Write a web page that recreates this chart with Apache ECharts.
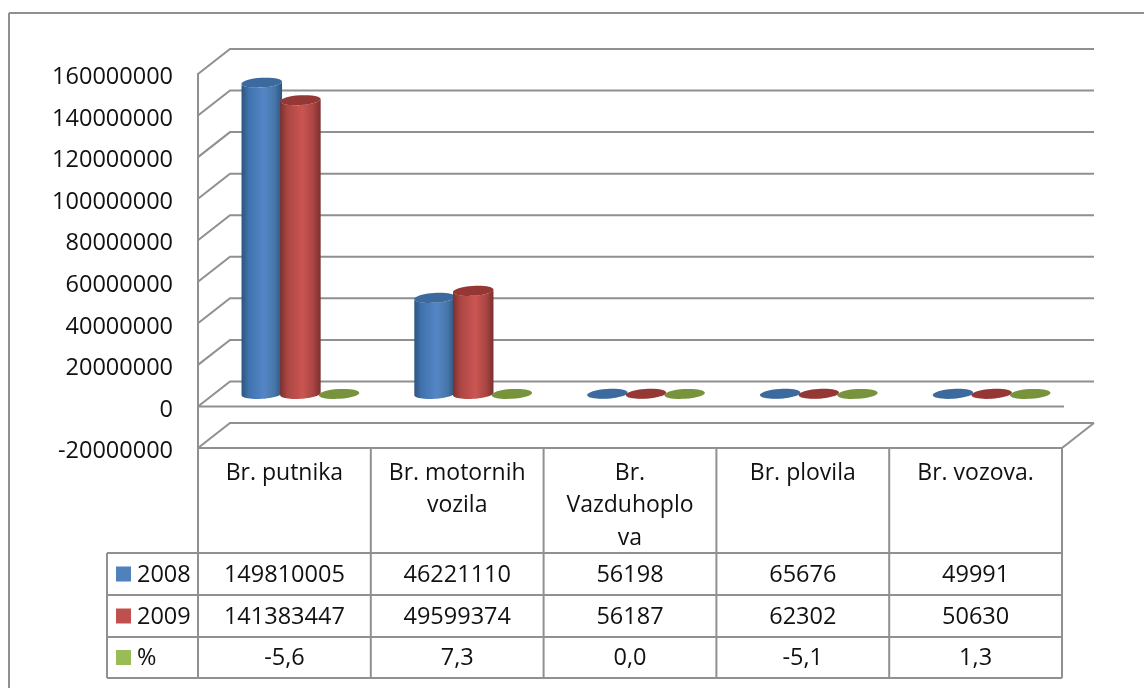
<!DOCTYPE html>
<html>
<head>
<meta charset="utf-8">
<style>html,body{margin:0;padding:0;background:#fff}#c{width:1144px;height:688px}</style>
<script src="https://cdn.jsdelivr.net/npm/echarts@6/dist/echarts.min.js"></script>
</head>
<body>
<div id="c"></div>
<script>
const categories = ['Br. putnika', 'Br. motornih\nvozila', 'Br.\nVazduhoplo\nva', 'Br. plovila', 'Br. vozova.'];
const values2008 = [149810005, 46221110, 56198, 65676, 49991];
const values2009 = [141383447, 49599374, 56187, 62302, 50630];
const valuesPct = [-5.6, 7.3, 0.0, -5.1, 1.3];
const seriesNames = ['2008', '2009', '%'];
const yTicks = [-20000000, 0, 20000000, 40000000, 60000000, 80000000, 100000000, 120000000, 140000000, 160000000];

const FONT = '"Open Sans", "Noto Sans", sans-serif';
const FS = 23;
const FS_NUM = 23.5;
const GREY = '#909090';
const G = {l: 198, r: 1062, t: 74, b: 448};
const DX = 32, DY = -25;
const rows = [553, 595, 637, 678];
const tableLeft = 107;

const looks = [
  {key: '#4f81bd', top: '#3c6a9f', stops: ['#2e5480', '#4073ad', '#5486c6', '#4676a8', '#2e5480']},
  {key: '#c0504d', top: '#953735', stops: ['#7b302e', '#ab4643', '#cb5552', '#a94543', '#7b302e']},
  {key: '#9bbb59', top: '#77933c', stops: ['#5f7a2e', '#7f9c42', '#9fc05c', '#7f9c42', '#5f7a2e']}
];

function cylinder(idx) {
  return function (params, api) {
    const look = looks[idx];
    const cat = api.value(0), val = api.value(1);
    const band = api.size([1, 0])[0];
    const rx = 20.3, ry = 4.9, th = -3.5 * Math.PI / 180;
    const off = (idx - 1) * band * 0.2235 + DX / 2;
    const p0 = api.coord([cat, 0]), p1 = api.coord([cat, val]);
    const cx = p0[0] + off, yb = p0[1] + DY / 2, yt = p1[1] + DY / 2;
    const pts = [];
    const ePt = (t, y) => [
      cx + rx * Math.cos(t) * Math.cos(th) - ry * Math.sin(t) * Math.sin(th),
      y + rx * Math.cos(t) * Math.sin(th) + ry * Math.sin(t) * Math.cos(th)
    ];
    for (let i = 0; i <= 24; i++) pts.push(ePt(Math.PI * i / 24, yb));
    for (let i = 24; i >= 0; i--) pts.push(ePt(Math.PI * i / 24, yt));
    const s = look.stops;
    return {
      type: 'group',
      children: [
        {
          type: 'polygon',
          shape: {points: pts},
          style: {fill: new echarts.graphic.LinearGradient(0, 0, 1, 0, [
            {offset: 0, color: s[0]}, {offset: 0.18, color: s[1]}, {offset: 0.55, color: s[2]},
            {offset: 0.82, color: s[3]}, {offset: 1, color: s[4]}
          ])}
        },
        {
          type: 'ellipse',
          x: cx, y: yt, rotation: -th,
          shape: {cx: 0, cy: 0, rx: rx, ry: ry},
          style: {fill: look.top}
        }
      ]
    };
  };
}

function gridRender(params, api) {
  const v = api.value(0);
  const y = api.coord([0, v])[1];
  const x0 = params.coordSys.x, x1 = x0 + params.coordSys.width;
  const children = [{
    type: 'polyline',
    shape: {points: [[x0, y], [x0 + DX, y + DY], [x1 + DX, y + DY]]},
    style: {stroke: GREY, lineWidth: 2, fill: null}
  }];
  if (v === 0) children.push({type: 'line', shape: {x1: x0, y1: y, x2: x1 + 2, y2: y}, style: {stroke: GREY, lineWidth: 2}});
  if (v === yTicks[0]) children.push({type: 'line', shape: {x1: x1, y1: y, x2: x1 + DX, y2: y + DY}, style: {stroke: GREY, lineWidth: 2}});
  return {type: 'group', children};
}

function fmtPct(v) { return v.toFixed(1).replace('.', ','); }
const tableRows = [values2008.map(String), values2009.map(String), valuesPct.map(fmtPct)];

function line(x1, y1, x2, y2) {
  return {type: 'line', silent: true, shape: {x1, y1, x2, y2}, style: {stroke: GREY, lineWidth: 2}, z: 5};
}
function label(text, x, y, align) {
  return {type: 'text', silent: true, x, y, z: 6, style: {text, fill: '#111', font: FS_NUM + 'px ' + FONT, align, verticalAlign: 'middle'}};
}
const gfx = [
  line(9, 13, 1144, 13),
  line(9, 13, 9, 688)
];
const colW = (G.r - G.l) / categories.length;
for (let i = 0; i <= categories.length; i++) gfx.push(line(G.l + i * colW, G.b, G.l + i * colW, rows[3]));
gfx.push(line(tableLeft, rows[0], tableLeft, rows[3]));
rows.forEach(y => gfx.push(line(tableLeft, y, G.r, y)));
tableRows.forEach((vals, r) => {
  const yc = (rows[r] + rows[r + 1]) / 2;
  gfx.push({type: 'rect', silent: true, z: 6, shape: {x: 116, y: yc - 7.5, width: 15, height: 15}, style: {fill: looks[r].key}});
  gfx.push(label(seriesNames[r], 137, yc + 1, 'left'));
  vals.forEach((t, c) => gfx.push(label(t, G.l + (c + 0.5) * colW, yc + 1, 'center')));
});

const seriesData = [values2008, values2009, valuesPct];
const chart = echarts.init(document.getElementById('c'), null, {renderer: 'canvas'});
chart.setOption({
  animation: false,
  backgroundColor: '#fff',
  grid: {left: G.l, right: 1144 - G.r, top: G.t, height: G.b - G.t},
  xAxis: {
    type: 'category',
    data: categories,
    axisLine: {onZero: false, lineStyle: {color: GREY, width: 2}},
    axisTick: {show: false},
    axisLabel: {interval: 0, margin: 9, color: '#111', fontFamily: FONT, fontSize: FS, lineHeight: 32.5, verticalAlign: 'top'}
  },
  yAxis: {
    type: 'value',
    min: yTicks[0],
    max: yTicks[yTicks.length - 1],
    interval: 20000000,
    splitLine: {show: false},
    axisTick: {show: false},
    axisLine: {show: true, lineStyle: {color: GREY, width: 2}},
    axisLabel: {
      margin: 25,
      formatter: v => '{n|' + v + '}',
      rich: {n: {color: '#111', fontFamily: FONT, fontSize: FS_NUM, padding: [7, 0, 0, 0]}}
    }
  },
  graphic: gfx,
  series: [
    {type: 'custom', name: 'grid', silent: true, clip: false, z: 1, data: yTicks.map(v => [v]), encode: {y: 0}, renderItem: gridRender},
    ...seriesData.map((d, i) => ({
      type: 'custom', name: seriesNames[i], clip: false, z: 2 + i,
      data: d.map((v, c) => [c, v]), encode: {x: 0, y: 1}, renderItem: cylinder(i)
    }))
  ]
});
</script>
</body>
</html>
